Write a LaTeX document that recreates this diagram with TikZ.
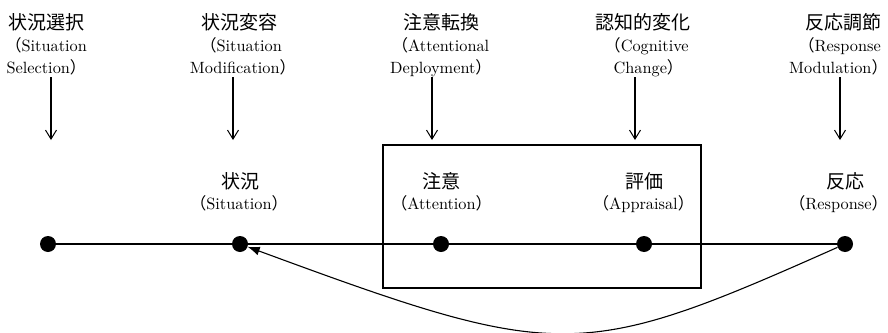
\documentclass[tikz,border=0pt]{standalone}
\usepackage{fontspec}
\newfontfamily\jpfont{Noto Sans CJK JP}
\newfontfamily\latfont[Extension=.otf]{lmroman10-regular}
\usetikzlibrary{arrows.meta}
\newcommand\lpar{\makebox[0.58em][r]{\jpfont （}}
\newcommand\rpar{\makebox[0.58em][l]{\jpfont ）}}
\begin{document}
\begin{tikzpicture}[x=1pt,y=-1pt,
  jp/.style={font=\jpfont\fontsize{19}{19}\selectfont, inner sep=0pt, anchor=base},
  lat/.style={font=\latfont\fontsize{16.3}{16.3}\selectfont, inner sep=0pt, anchor=base},
  dot/.style={circle, fill=black, minimum size=16pt, inner sep=0pt},
  conn/.style={line width=1.1pt},
  down/.style={line width=1.1pt, -{Straight Barb[length=9pt,width=11pt,line width=1pt]}},
  boxstyle/.style={draw, line width=1.1pt, minimum width=318pt, minimum height=143pt, inner sep=0pt}
]
\useasboundingbox (0,0) rectangle (888,332);

% top labels
\node[jp]  (t1a) at (47,29)   {状況選択};
\node[lat] (t1b) at (49.5,51.5) {\lpar Situation};
\node[lat] (t1c) at (43,73.5) {Selection\rpar};

\node[jp]  (t2a) at (239,29)   {状況変容};
\node[lat] (t2b) at (244.5,51.5) {\lpar Situation};
\node[lat] (t2c) at (239.5,73.5) {Modification\rpar};

\node[jp]  (t3a) at (441,29)   {注意転換};
\node[lat] (t3b) at (444,51.5) {\lpar Attentional};
\node[lat] (t3c) at (437.5,73.5) {Deployment\rpar};

\node[jp]  (t4a) at (643,29)   {認知的変化};
\node[lat] (t4b) at (650,51.5) {\lpar Cognitive};
\node[lat] (t4c) at (645,73.5) {Change\rpar};

\node[jp]  (t5a) at (843,29)   {反応調節};
\node[lat] (t5b) at (843,51.5) {\lpar Response};
\node[lat] (t5c) at (835,73.5) {Modulation\rpar};

% down arrows
\coordinate (a1t) at (51,77);  \coordinate (a1b) at (51,140);
\coordinate (a2t) at (233,77); \coordinate (a2b) at (233,140);
\coordinate (a3t) at (432,77); \coordinate (a3b) at (432,140);
\coordinate (a4t) at (635,77); \coordinate (a4b) at (635,140);
\coordinate (a5t) at (840,77); \coordinate (a5b) at (840,140);
\foreach \i in {1,...,5} \draw[down] (a\i t) -- (a\i b);

% box
\node[boxstyle] (box) at (542,216.5) {};

% bottom labels
\node[jp]  (b2a) at (240,188) {状況};
\node[lat] (b2b) at (239,209) {\lpar Situation\rpar};
\node[jp]  (b3a) at (441,188) {注意};
\node[lat] (b3b) at (441.5,209) {\lpar Attention\rpar};
\node[jp]  (b4a) at (644,188) {評価};
\node[lat] (b4b) at (643.5,209) {\lpar Appraisal\rpar};
\node[jp]  (b5a) at (845,188) {反応};
\node[lat] (b5b) at (838.5,209) {\lpar Response\rpar};

% dots and line
\node[dot] (d1) at (48,244) {};
\node[dot] (d2) at (240,244) {};
\node[dot] (d3) at (441,244) {};
\node[dot] (d4) at (644,244) {};
\node[dot] (d5) at (845,244) {};
\draw[conn] (d1) -- (d2) -- (d3) -- (d4) -- (d5);

% feedback curve
\draw[conn, -{Latex[length=12pt,width=9pt]}] (d5) .. controls (580,362) and (560,362) .. (d2);
\end{tikzpicture}
\end{document}
